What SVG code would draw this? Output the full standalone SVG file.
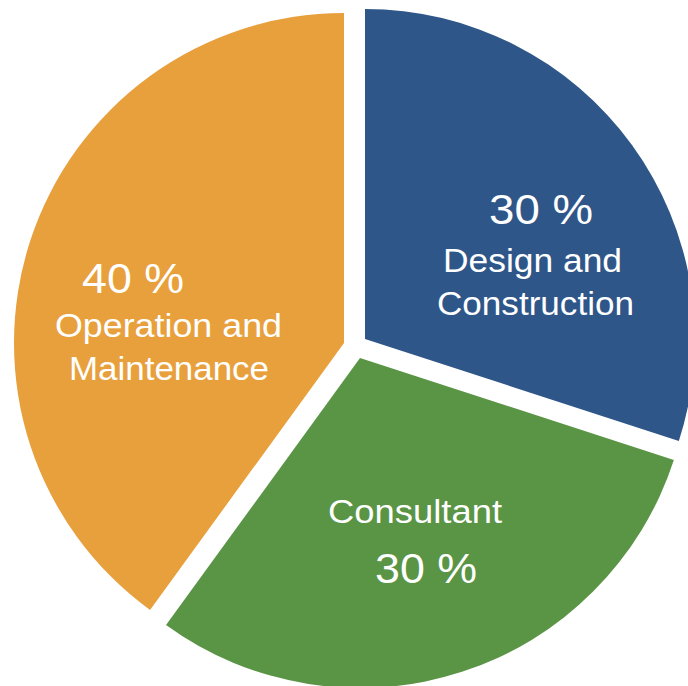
<svg xmlns="http://www.w3.org/2000/svg" width="688" height="686" viewBox="0 0 688 686">
<style>
.lbl{font-family:"Liberation Sans",Arial,Helvetica,sans-serif;fill:#ffffff;font-size:34px}
.pct{font-family:"Liberation Sans",Arial,Helvetica,sans-serif;fill:#ffffff;font-size:42px}
</style>
<rect width="688" height="686" fill="#ffffff"/>
<g id="design-construction">
<path d="M365,339 L365,9 A330,330 0 0 1 678.85,440.98 Z" fill="#2F5689"/>
<text class="pct" x="489" y="224" textLength="104" lengthAdjust="spacingAndGlyphs">30 %</text>
<text class="lbl" x="443" y="272" textLength="179" lengthAdjust="spacingAndGlyphs">Design and</text>
<text class="lbl" x="437" y="315" textLength="197" lengthAdjust="spacingAndGlyphs">Construction</text>
</g>
<g id="consultant">
<path d="M360,358 L673.85,459.98 A330,330 0 0 1 166.03,624.98 Z" fill="#5A9445"/>
<text class="lbl" x="328" y="523" textLength="174" lengthAdjust="spacingAndGlyphs">Consultant</text>
<text class="pct" x="375" y="583" textLength="102" lengthAdjust="spacingAndGlyphs">30 %</text>
</g>
<g id="operation-maintenance">
<path d="M344,343 L150.03,609.98 A330,330 0 0 1 344,13 Z" fill="#E8A03D"/>
<text class="pct" x="82" y="293" textLength="102" lengthAdjust="spacingAndGlyphs">40 %</text>
<text class="lbl" x="55" y="337" textLength="227" lengthAdjust="spacingAndGlyphs">Operation and</text>
<text class="lbl" x="69" y="380" textLength="200" lengthAdjust="spacingAndGlyphs">Maintenance</text>
</g>
</svg>
